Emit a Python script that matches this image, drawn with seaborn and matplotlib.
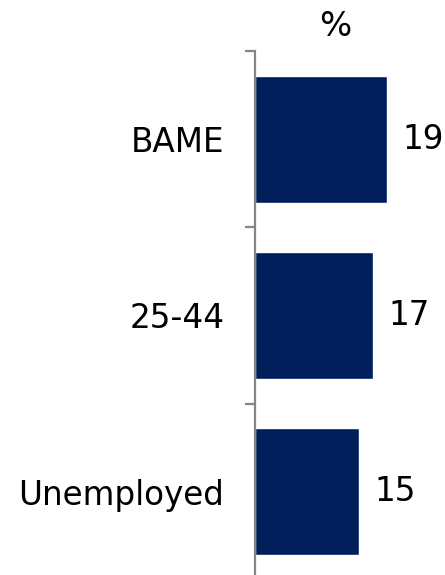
import matplotlib
matplotlib.use("Agg")
import matplotlib.pyplot as plt
import seaborn as sns
import pandas as pd

categories = ["BAME", "25-44", "Unemployed"]
values = [19, 17, 15]
unit_label = "%"

df = pd.DataFrame({"category": categories, "value": values})

sns.set_style("white")
plt.rcParams["font.family"] = ["DejaVu Sans"]

W, H = 445, 575
fig = plt.figure(figsize=(W / 100, H / 100), dpi=100)
left_px, right_px = 255, 445
top_px, bottom_px = 51, 580
ax = fig.add_axes([left_px / W, (H - bottom_px) / H, (right_px - left_px) / W, (bottom_px - top_px) / H])

bar_color = "#001F5B"
sns.barplot(data=df, x="value", y="category", orient="h", color=bar_color,
            width=0.72, ax=ax, saturation=1)

px_per_unit = 6.95
ax.set_xlim(0, (right_px - left_px) / px_per_unit)
ax.set_ylim(len(categories) - 0.5, -0.5)

for s in ["top", "right", "bottom"]:
    ax.spines[s].set_visible(False)
ax.spines["left"].set_color("#868686")
ax.spines["left"].set_linewidth(1.6)

fs = 23.5
ax.set_xticks([])
ax.set_yticks(range(len(categories)))
ax.set_yticklabels(categories, fontsize=fs, color="black")
ax.tick_params(axis="y", which="major", left=True, length=0, pad=22)
ax.set_yticks([-0.5 + i for i in range(len(categories) + 1)], minor=True)
ax.tick_params(axis="y", which="minor", left=True, length=7.5, width=1.6, color="#868686")
ax.set_xlabel("")
ax.set_ylabel("")

for i, v in enumerate(values):
    ax.text(v + 15 / px_per_unit, i, f"{v}", va="center", ha="left", fontsize=fs, color="black")

fig.text(335 / W, 1 - 27 / H, unit_label, ha="center", va="center", fontsize=fs + 1, color="black")

fig.savefig("out.png", dpi=100)
